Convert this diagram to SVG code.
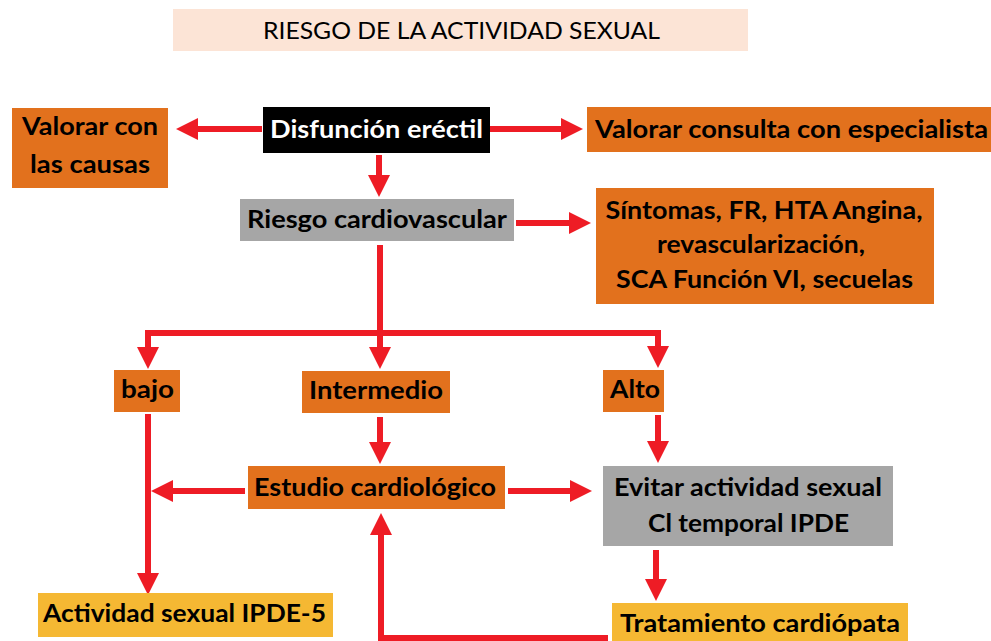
<svg xmlns="http://www.w3.org/2000/svg" width="991" height="641" viewBox="0 0 991 641">
<defs>
<style>
.t{font-family:Lato,"Liberation Sans",Arial,sans-serif;font-size:24px;font-weight:bold;fill:#000;text-anchor:middle}
.w{fill:#fff}
.org{fill:#E2711D}
.gry{fill:#A6A6A6}
.yel{fill:#F5B833}
.ln{fill:none;stroke:#EE1C25;stroke-width:6;marker-end:url(#ah)}
</style>
<marker id="ah" viewBox="0 0 22 22" markerUnits="userSpaceOnUse" markerWidth="22" markerHeight="22" refX="3" refY="11" orient="auto">
<path d="M0,0 L22,11 L0,22 z" fill="#EE1C25"/>
</marker>
</defs>
<rect width="991" height="641" fill="#fff"/>
<g id="title">
<rect x="173" y="9" width="575" height="42" fill="#FCE4D6"/>
<text x="461.5" y="38.5" class="t" style="font-weight:normal;font-size:23px" textLength="397" lengthAdjust="spacingAndGlyphs">RIESGO DE LA ACTIVIDAD SEXUAL</text>
</g>
<g id="connectors">
<path class="ln" d="M262,129 H195"/>
<path class="ln" d="M490,129 H564"/>
<path class="ln" d="M379,155 V178"/>
<path class="ln" d="M516,223 H572"/>
<path class="ln" d="M380,245 V350"/>
<path class="ln" d="M380,333 H148 V350"/>
<path class="ln" d="M380,333 H658 V349"/>
<path class="ln" d="M148,414 V576"/>
<path class="ln" d="M380,417 V445"/>
<path class="ln" d="M658,415 V444"/>
<path class="ln" d="M245,491 H170"/>
<path class="ln" d="M508,491 H573"/>
<path class="ln" d="M656,550 V582"/>
<path class="ln" d="M608,638 H381 V532"/>
</g>
<g id="disfuncion">
<rect x="263" y="107" width="227" height="46" fill="#000"/>
<text x="376.5" y="137.5" class="t w" textLength="213" lengthAdjust="spacingAndGlyphs">Disfunción eréctil</text>
</g>
<g id="valorar-causas">
<rect x="12" y="108" width="156" height="80" class="org"/>
<text x="90" y="135" class="t" textLength="136" lengthAdjust="spacingAndGlyphs">Valorar con</text>
<text x="90" y="173" class="t" textLength="120" lengthAdjust="spacingAndGlyphs">las causas</text>
</g>
<g id="valorar-especialista">
<rect x="587" y="107" width="404" height="45" class="org"/>
<text x="791.5" y="137.5" class="t" textLength="393" lengthAdjust="spacingAndGlyphs">Valorar consulta con especialista</text>
</g>
<g id="riesgo">
<rect x="240" y="199" width="274" height="42" class="gry"/>
<text x="377" y="228" class="t" textLength="260" lengthAdjust="spacingAndGlyphs">Riesgo cardiovascular</text>
</g>
<g id="sintomas">
<rect x="596" y="188" width="338" height="116" class="org"/>
<text x="764" y="219" class="t" textLength="317" lengthAdjust="spacingAndGlyphs">Síntomas, FR, HTA Angina,</text>
<text x="761" y="253" class="t" textLength="208" lengthAdjust="spacingAndGlyphs">revascularización,</text>
<text x="764.5" y="288" class="t" textLength="297" lengthAdjust="spacingAndGlyphs">SCA Función VI, secuelas</text>
</g>
<g id="bajo">
<rect x="114" y="370" width="66" height="42" class="org"/>
<text x="147.5" y="398" class="t" textLength="53" lengthAdjust="spacingAndGlyphs">bajo</text>
</g>
<g id="intermedio">
<rect x="302" y="371" width="148" height="42" class="org"/>
<text x="376" y="399" class="t" textLength="134" lengthAdjust="spacingAndGlyphs">Intermedio</text>
</g>
<g id="alto">
<rect x="603" y="370" width="61" height="42" class="org"/>
<text x="635" y="398" class="t" textLength="50" lengthAdjust="spacingAndGlyphs">Alto</text>
</g>
<g id="estudio">
<rect x="248" y="466" width="257" height="43" class="org"/>
<text x="375" y="496" class="t" textLength="242" lengthAdjust="spacingAndGlyphs">Estudio cardiológico</text>
</g>
<g id="evitar">
<rect x="603" y="466" width="290" height="80" class="gry"/>
<text x="748" y="496" class="t" textLength="268" lengthAdjust="spacingAndGlyphs">Evitar actividad sexual</text>
<text x="748.5" y="532" class="t" textLength="201" lengthAdjust="spacingAndGlyphs">Cl temporal IPDE</text>
</g>
<g id="actividad-ipde5">
<rect x="38" y="593" width="295" height="44" class="yel"/>
<text x="184.5" y="622" class="t" textLength="283" lengthAdjust="spacingAndGlyphs">Actividad sexual IPDE-5</text>
</g>
<g id="tratamiento">
<rect x="612" y="603" width="296" height="40" class="yel"/>
<text x="760" y="632" class="t" textLength="280" lengthAdjust="spacingAndGlyphs">Tratamiento cardiópata</text>
</g>
</svg>
